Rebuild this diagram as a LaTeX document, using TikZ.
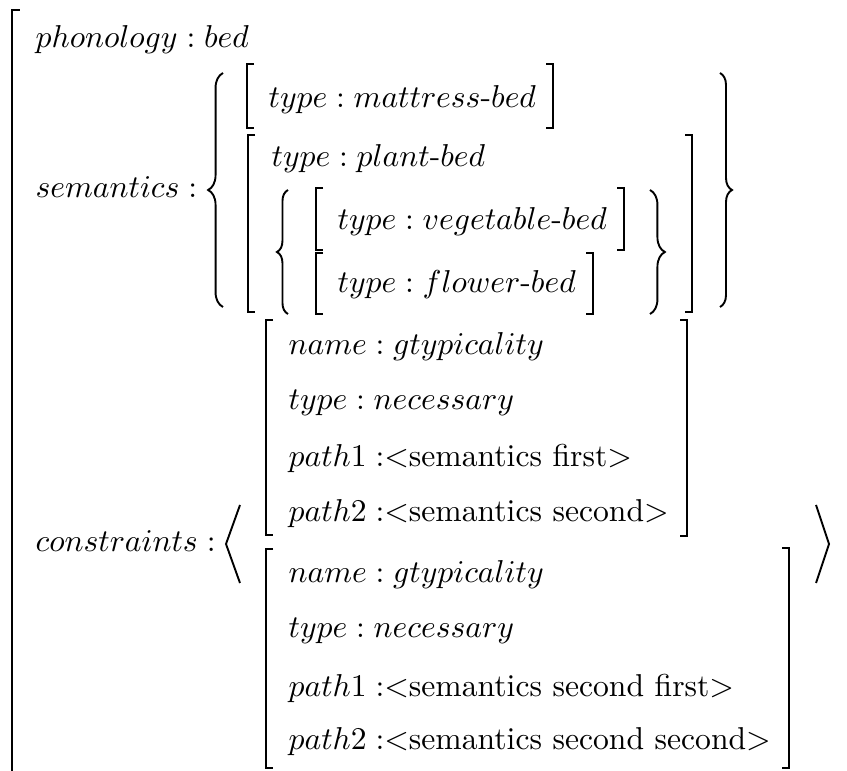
\documentclass[tikz,border=0pt]{standalone}
\usepackage{amsmath}
\usetikzlibrary{decorations.pathreplacing}
\newcommand{\lbrk}[3]{\draw[bracket] (#1+7,#2) -- (#1,#2) -- (#1,#3) -- (#1+7,#3);}
\newcommand{\rbrk}[3]{\draw[bracket] (#1-7,#2) -- (#1,#2) -- (#1,#3) -- (#1-7,#3);}
\newcommand{\hy}{\text{-}}

\begin{document}
\begin{tikzpicture}[x=0.316pt,y=-0.316pt,
    avm/.style={anchor=base west,inner sep=0pt},
    bracket/.style={line width=0.6pt},
    curly/.style={line width=0.6pt,decorate,decoration={brace,amplitude=#1}}]
  \useasboundingbox (0,0) rectangle (847,771);

  % top level
  \node[avm] (phon) at (35,48) {$phonology : bed$};
  \node[avm] (sem) at (35,198) {$semantics :$};
  \node[avm] (cons) at (35,552) {$constraints :$};
  \draw[bracket] (20,10) -- (12,10) -- (12,771);

  % semantics
  \draw[curly=4.7pt] (223,307) -- (223,73);
  \draw[curly=3.8pt] (720,73) -- (720,307);
  \node[avm] (matt) at (268,108) {$type : mattress\hy bed$};
  \lbrk{247}{64}{128} \rbrk{553}{64}{128}
  \node[avm] (plant) at (271,167) {$type : plant\hy bed$};
  \lbrk{248}{135}{312} \rbrk{692}{135}{312}
  \draw[curly=3.5pt] (288,314) -- (288,190);
  \draw[curly=4.7pt] (650,190) -- (650,314);
  \node[avm] (veg) at (337,230) {$type : vegetable\hy bed$};
  \lbrk{316}{188}{250} \rbrk{624}{188}{250}
  \node[avm] (flow) at (337,293) {$type : flower\hy bed$};
  \lbrk{316}{253}{314} \rbrk{593}{253}{314}

  % constraints
  \draw[bracket] (240,505) -- (226,544) -- (240,583);
  \draw[bracket] (816,505) -- (829,544) -- (816,583);
  \node[avm] (c1name) at (288,355) {$name : gtypicality$};
  \node[avm] (c1type) at (288,410) {$type : necessary$};
  \node[avm] (c1pa) at (288,467) {$path1 :$<semantics first>};
  \node[avm] (c1pb) at (288,522) {$path2 :$<semantics second>};
  \lbrk{266}{320}{535} \rbrk{687}{320}{536}
  \node[avm] (c2name) at (288,583) {$name : gtypicality$};
  \node[avm] (c2type) at (288,638) {$type : necessary$};
  \node[avm] (c2pa) at (288,697) {$path1 :$<semantics second first>};
  \node[avm] (c2pb) at (288,750) {$path2 :$<semantics second second>};
  \lbrk{266}{549}{768} \rbrk{789}{548}{768}
\end{tikzpicture}
\end{document}
